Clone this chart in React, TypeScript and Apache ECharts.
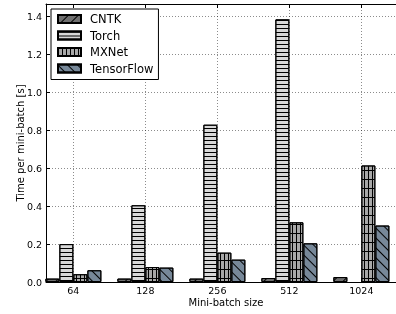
import React, { useEffect, useRef } from "react";
import * as echarts from "echarts";

const categories = ["64", "128", "256", "512", "1024"];
const cntk = [0.018, 0.018, 0.018, 0.021, 0.026];
const torch: (number | null)[] = [0.2, 0.405, 0.83, 1.386, null];
const mxnet = [0.041, 0.079, 0.155, 0.315, 0.615];
const tensorflow = [0.062, 0.076, 0.118, 0.204, 0.298];
const yTicks = [0, 0.2, 0.4, 0.6, 0.8, 1.0, 1.2, 1.4];
const xTicks = [0, 1, 2, 3, 4];

const FONT = "DejaVu Sans";

export default function App() {
  const ref = useRef<HTMLDivElement>(null);
  useEffect(() => {
    if (!ref.current) return;
    const chart = echarts.init(ref.current, null, { renderer: "svg" });
    const mk = (arr: (number | null)[]) =>
      arr.map((v, i) => [i, v == null ? "-" : v]);
    const gridRows: number[][] = [[1, 0]];
    for (let i = 0; i < 8; i++) gridRows.push([1, 3]);
    const series = [
      {
        name: "CNTK",
        data: mk(cntk),
        color: "#707070",
        decal: {
          symbol: "rect",
          symbolSize: 1,
          color: "#000",
          dashArrayX: [1, 0],
          dashArrayY: [1, 6],
          rotation: -Math.PI / 4,
        },
      },
      {
        name: "Torch",
        data: mk(torch),
        color: "#d8d8d8",
        decal: {
          symbol: "rect",
          symbolSize: 1,
          color: "#000",
          dashArrayX: [1, 0],
          dashArrayY: [1, 3],
          rotation: 0,
        },
      },
      {
        name: "MXNet",
        data: mk(mxnet),
        color: "#a8a8a8",
        decal: {
          symbol: "rect",
          symbolSize: 1,
          color: "#000",
          dashArrayX: gridRows,
          dashArrayY: [1, 0],
          rotation: 0,
        },
      },
      {
        name: "TensorFlow",
        data: mk(tensorflow),
        color: "#778899",
        decal: {
          symbol: "rect",
          symbolSize: 1,
          color: "#000",
          dashArrayX: [1, 0],
          dashArrayY: [1, 6],
          rotation: Math.PI / 4,
        },
      },
    ].map((s) => ({
      type: "bar",
      name: s.name,
      data: s.data,
      barWidth: 14,
      barGap: "0%",
      xAxisIndex: 0,
      itemStyle: {
        color: s.color,
        borderColor: "#000",
        borderWidth: 1,
        decal: s.decal,
      },
    }));

    const gridLine = {
      show: true,
      lineStyle: { color: "#000", opacity: 0.45, type: [1, 2], width: 1 },
    };

    chart.setOption({
      animation: false,
      aria: { enabled: true, decal: { show: true } },
      textStyle: { fontFamily: FONT },
      grid: {
        left: 46,
        top: 4,
        width: 360,
        height: 278,
        show: false,
        outerBoundsMode: "none",
        containLabel: false,
      },
      legend: {
        orient: "vertical",
        left: 51,
        top: 9,
        padding: [3, 5, 4, 6],
        itemWidth: 23,
        itemHeight: 8,
        itemGap: 2.5,
        icon: "rect",
        backgroundColor: "#fff",
        borderColor: "#000",
        borderWidth: 1,
        borderRadius: 0,
        textStyle: {
          fontFamily: FONT,
          fontSize: 11.5,
          lineHeight: 14,
          color: "#000",
          padding: [0, 0, 0, 4],
        },
        data: ["CNTK", "Torch", "MXNet", "TensorFlow"],
      },
      xAxis: [
        {
          type: "value",
          position: "bottom",
          min: -0.38,
          max: 4.62,
          name: "Mini-batch size",
          nameLocation: "middle",
          nameGap: 15,
          nameMoveOverlap: false,
          nameTextStyle: { fontFamily: FONT, fontSize: 10, color: "#000" },
          axisLine: {
            show: true,
            onZero: false,
            lineStyle: { color: "#000", width: 1 },
          },
          axisTick: {
            show: true,
            inside: true,
            length: 4,
            customValues: xTicks,
            lineStyle: { color: "#000" },
          },
          axisLabel: {
            show: true,
            margin: 3,
            customValues: xTicks,
            formatter: (v: number) => categories[Math.round(v)] ?? "",
            fontFamily: FONT,
            fontSize: 9.5,
            color: "#000",
          },
          splitLine: gridLine,
        },
        {
          type: "value",
          position: "top",
          min: -0.38,
          max: 4.62,
          axisLine: {
            show: true,
            onZero: false,
            lineStyle: { color: "#000", width: 1 },
          },
          axisTick: {
            show: true,
            inside: true,
            length: 4,
            customValues: xTicks,
            lineStyle: { color: "#000" },
          },
          axisLabel: { show: false },
          splitLine: { show: false },
        },
      ],
      yAxis: {
        type: "value",
        min: 0,
        max: 1.467,
        name: "Time per mini-batch [s]",
        nameLocation: "middle",
        nameGap: 21,
        nameMoveOverlap: false,
        nameTextStyle: { fontFamily: FONT, fontSize: 10, color: "#000" },
        axisLine: {
          show: true,
          onZero: false,
          lineStyle: { color: "#000", width: 1 },
        },
        axisTick: {
          show: true,
          inside: true,
          length: 4,
          customValues: yTicks,
          lineStyle: { color: "#000" },
        },
        axisLabel: {
          margin: 4,
          customValues: yTicks,
          formatter: (v: number) => v.toFixed(1),
          fontFamily: FONT,
          fontSize: 9.5,
          color: "#000",
        },
        splitLine: gridLine,
      },
      series,
    });
    return () => chart.dispose();
  }, []);
  return (
    <div
      ref={ref}
      style={{ position: "fixed", left: 0, top: 0, width: 396, height: 314 }}
    />
  );
}
